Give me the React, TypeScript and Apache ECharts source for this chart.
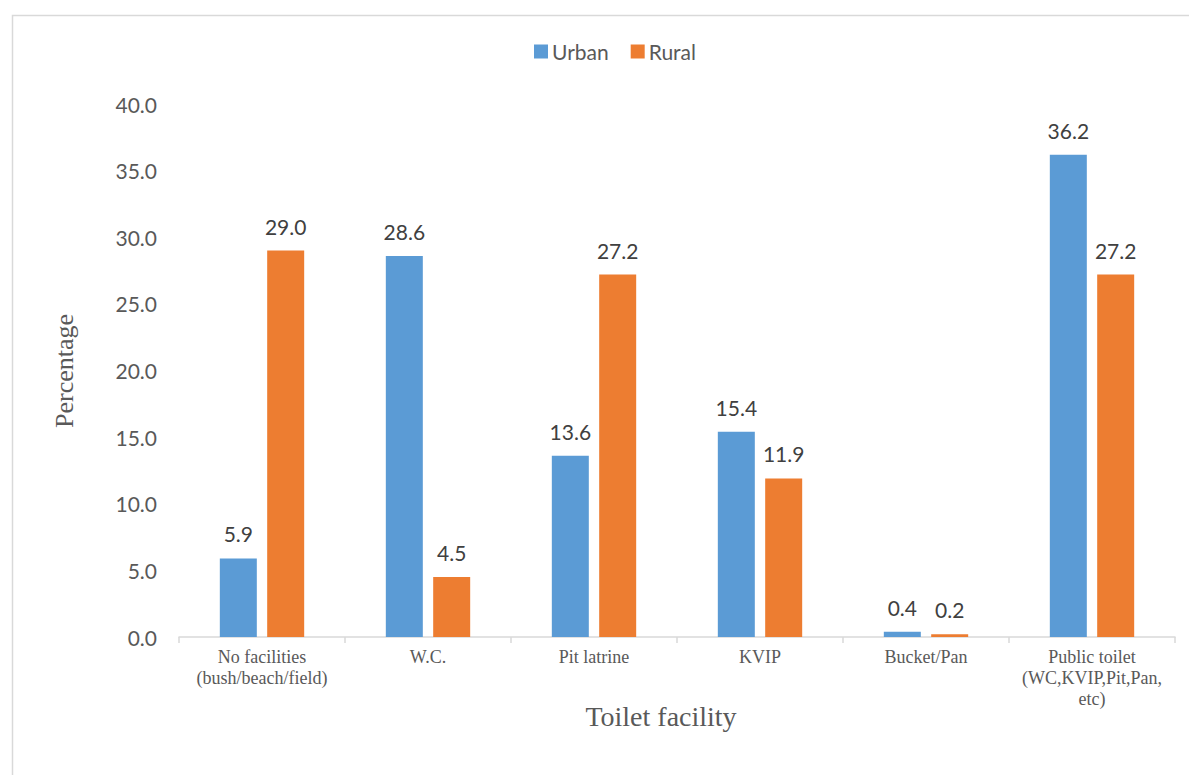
import React, { useEffect, useRef } from "react";
import * as echarts from "echarts";

const categories = [
  "No facilities\n(bush/beach/field)",
  "W.C.",
  "Pit latrine",
  "KVIP",
  "Bucket/Pan",
  "Public toilet\n(WC,KVIP,Pit,Pan,\netc)",
];
const urban = [5.9, 28.6, 13.6, 15.4, 0.4, 36.2];
const rural = [29.0, 4.5, 27.2, 11.9, 0.2, 27.2];
const xAxisTitle = "Toilet facility";
const yAxisTitle = "Percentage";

const SANS = "Lato, 'Open Sans', sans-serif";
const SERIF = "'Liberation Serif', 'Times New Roman', serif";

export default function App() {
  const ref = useRef<HTMLDivElement>(null);
  useEffect(() => {
    if (!ref.current) return;
    const chart = echarts.init(ref.current, null, { renderer: "svg" });
    const labelStyle = {
      show: true,
      position: "top" as const,
      distance: 14,
      fontFamily: SANS,
      fontSize: 21,
      color: "#404040",
      formatter: (p: any) => Number(p.value).toFixed(1),
    };
    chart.setOption({
      animation: false,
      backgroundColor: "#ffffff",
      graphic: [
        {
          type: "rect",
          shape: { x: 12.5, y: 15.5, width: 1220, height: 820 },
          style: { fill: "none", stroke: "#d9d9d9", lineWidth: 1.5 },
          silent: true,
        },
        {
          type: "text",
          x: 661,
          y: 716,
          style: {
            text: xAxisTitle,
            fontFamily: SERIF,
            fontSize: 28,
            fill: "#595959",
            textAlign: "center",
            textVerticalAlign: "middle",
          },
          silent: true,
        },
        {
          type: "text",
          x: 64,
          y: 371,
          rotation: Math.PI / 2,
          style: {
            text: yAxisTitle,
            fontFamily: SERIF,
            fontSize: 26,
            fill: "#595959",
            textAlign: "center",
            textVerticalAlign: "middle",
          },
          silent: true,
        },
      ],
      legend: {
        top: 36,
        left: 529,
        itemWidth: 14,
        itemHeight: 14,
        itemGap: 22,
        icon: "rect",
        textStyle: { fontFamily: SANS, fontSize: 21, color: "#595959", padding: [0, 0, 0, -1] },
        data: ["Urban", "Rural"],
      },
      grid: { left: 179, right: 14, top: 104, bottom: 138, containLabel: false },
      xAxis: {
        type: "category",
        data: categories,
        axisLine: { lineStyle: { color: "#d9d9d9", width: 1.5 } },
        axisTick: { show: true, length: 6, lineStyle: { color: "#d9d9d9", width: 1.5 } },
        axisLabel: {
          fontFamily: SERIF,
          fontSize: 18,
          color: "#595959",
          lineHeight: 21,
          margin: 9,
          interval: 0,
        },
      },
      yAxis: {
        type: "value",
        min: 0,
        max: 40,
        interval: 5,
        axisLine: { show: false },
        axisTick: { show: false },
        splitLine: { show: false },
        axisLabel: {
          fontFamily: SANS,
          fontSize: 21,
          color: "#595959",
          margin: 22,
          formatter: (v: number) => v.toFixed(1),
        },
      },
      series: [
        {
          name: "Urban",
          type: "bar",
          data: urban,
          barWidth: 37,
          barGap: "28%",
          itemStyle: { color: "#5B9BD5" },
          label: labelStyle,
        },
        {
          name: "Rural",
          type: "bar",
          data: rural,
          barWidth: 37,
          barGap: "28%",
          itemStyle: { color: "#ED7D31" },
          label: labelStyle,
        },
      ],
    });
    return () => chart.dispose();
  }, []);
  return (
    <div
      ref={ref}
      style={{ position: "fixed", left: 0, top: 0, width: 1189, height: 775 }}
    />
  );
}
